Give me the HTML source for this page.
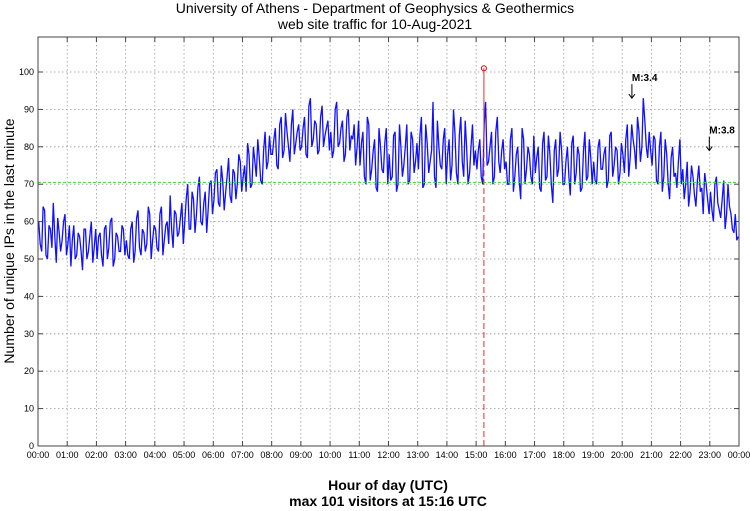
<!DOCTYPE html>
<html><head><meta charset="utf-8"><style>
body{margin:0;background:#fff;}
svg{display:block;font-family:"Liberation Sans",sans-serif;}
</style></head><body>
<svg id="chart" width="750" height="511"></svg>
<script>
const yTicks=[0,10,20,30,40,50,60,70,80,90,100];
const xHours=[0,1,2,3,4,5,6,7,8,9,10,11,12,13,14,15,16,17,18,19,20,21,22,23,24];
const meanValue=70.5;
const peakMinute=916; const peakValue=101;
const quakeMinutes=[1220,1379]; const quakeLabels=["M:3.4","M:3.8"]; const quakeValues=[93,79];
// visitors, one value per 6 minutes (10 per hour)
const visitors=[
60,52,63,50,58,65,49,57,55,62, 54,48,59,51,56,47,58,52,60,53,
50,57,48,59,53,61,50,56,52,58, 55,50,60,52,63,51,57,54,62,55,
58,52,64,55,60,67,53,62,57,65, 60,70,58,66,62,72,59,68,63,71,
66,74,64,71,68,77,65,73,70,76, 72,68,78,70,76,82,71,79,74,83,
78,85,74,88,79,84,76,90,81,86, 80,88,77,93,82,86,79,91,83,87,
84,79,92,81,87,78,90,83,86,80, 75,84,70,86,74,82,68,80,73,85,
78,72,84,70,80,75,86,71,82,76, 74,88,70,81,76,92,69,80,74,85,
78,71,90,73,83,76,87,70,80,75, 74,82,70,92,76,84,72,88,73,82,
76,70,85,72,80,66,82,74,78,70, 73,80,68,84,72,78,65,82,74,79,
70,80,67,83,73,78,69,84,72,77, 76,70,82,74,80,71,84,75,79,73,
78,82,72,86,79,88,76,93,80,84, 75,82,70,84,72,78,66,80,73,76,
70,66,76,68,72,64,75,69,73,66, 68,60,72,63,66,58,70,62,57,55
];
// interleaved readings, 3 minutes after each value above
const visitorsMid=[
54,64,51,59,53,56,61,52,60,51, 59,55,50,57,52,58,50,56,49,58,
56,51,58,50,60,48,57,52,59,51, 51,58,49,61,53,58,52,64,50,59,
53,62,51,59,54,58,63,56,61,54, 66,58,68,57,69,60,65,57,70,62,
73,65,75,63,72,67,74,66,78,68, 75,81,69,80,72,77,70,84,76,78,
82,75,86,77,89,80,86,78,84,79, 85,78,91,80,87,78,88,80,85,79,
77,90,80,85,76,88,79,82,75,87, 81,72,88,71,79,69,85,74,81,70,
71,83,68,86,72,80,70,84,73,81, 83,69,86,73,79,72,87,75,82,70,
82,75,84,70,88,72,80,73,86,79, 79,72,86,75,80,70,84,76,79,74,
70,82,68,78,71,85,70,80,72,83, 77,69,81,71,83,70,79,72,84,70,
76,72,81,70,80,68,79,71,82,70, 71,80,74,78,69,83,72,80,70,81,
73,86,77,82,74,84,80,87,77,79, 83,71,80,68,82,70,77,72,69,82,
74,70,64,75,67,71,68,62,70,62, 63,70,65,61,71,62,64,58,62,56
];
const NS="http://www.w3.org/2000/svg";
const svg=document.getElementById('chart');
const L=38,R=739,T=37,B=446;
function xs(m){return L+(R-L)*m/1440;}
function ys(v){return B-(B-72)*v/100;}
function mk(tag,attrs,parent){const e=document.createElementNS(NS,tag);for(const k in attrs)e.setAttribute(k,attrs[k]);(parent||svg).appendChild(e);return e;}
const title=mk('text',{x:375,y:13,'text-anchor':'middle','font-size':14});


title.textContent='University of Athens - Department of Geophysics & Geothermics';
const sub=mk('text',{x:375,y:29,'text-anchor':'middle','font-size':14});


sub.textContent='web site traffic for 10-Aug-2021';
const grid=mk('g',{stroke:'#999','stroke-width':0.8,'stroke-dasharray':'1.5,2.5'});


yTicks.forEach(v=>{if(v>0)mk('line',{x1:L,x2:R,y1:ys(v),y2:ys(v)},grid);});
xHours.forEach(h=>{if(h>0&&h<24)mk('line',{x1:xs(h*60),x2:xs(h*60),y1:T,y2:B},grid);});
const yl=mk('g',{'font-size':9,'text-anchor':'end',fill:'#000'});


yTicks.forEach(v=>{const t=mk('text',{x:L-4,y:ys(v)+3},yl);t.textContent=v;
mk('line',{x1:L,x2:L+5,y1:ys(v),y2:ys(v),stroke:'#444'},svg);mk('line',{x1:R-5,x2:R,y1:ys(v),y2:ys(v),stroke:'#444'},svg);});
const xl=mk('g',{'font-size':9,'text-anchor':'middle',fill:'#000'});


xHours.forEach(h=>{const t=mk('text',{x:xs(h*60),y:B+12},xl);t.textContent=String(h%24).padStart(2,'0')+':00';
mk('line',{x1:xs(h*60),x2:xs(h*60),y1:B,y2:B-5,stroke:'#444'},svg);mk('line',{x1:xs(h*60),x2:xs(h*60),y1:T,y2:T+5,stroke:'#444'},svg);});
let d='';visitors.forEach((v,i)=>{d+=(i?'L':'M')+xs(i*6+1.5).toFixed(1)+','+ys(v).toFixed(1);
d+='L'+xs(i*6+4.5).toFixed(1)+','+ys(visitorsMid[i]).toFixed(1);});
const line=mk('path',{d:d,fill:'none',stroke:'#1010ff','stroke-width':1.3});


const mean=mk('line',{x1:L,x2:R,y1:ys(meanValue),y2:ys(meanValue),stroke:'#33dd33','stroke-dasharray':'3,2'});


const pk=mk('line',{x1:xs(peakMinute),x2:xs(peakMinute),y1:B,y2:ys(80),stroke:'#e03030','stroke-dasharray':'6,3'});


const pk2=mk('line',{x1:xs(peakMinute),x2:xs(peakMinute),y1:ys(80),y2:ys(peakValue),stroke:'#e03030'});


const pc=mk('circle',{cx:xs(peakMinute),cy:ys(peakValue),r:2.5,fill:'none',stroke:'#e00000'});


quakeMinutes.forEach((m,i)=>{const g=mk('g',{});


const yb=ys(quakeValues[i]);
mk('line',{x1:xs(m),x2:xs(m),y1:yb-14,y2:yb,stroke:'#000'},g);
mk('path',{d:`M${xs(m)-3},${yb-4}L${xs(m)},${yb}L${xs(m)+3},${yb-4}`,fill:'none',stroke:'#000'},g);
const t=mk('text',{x:xs(m),y:yb-17,'font-size':10,'font-weight':'bold'},g);t.textContent=quakeLabels[i];});
mk('rect',{x:L,y:T,width:R-L,height:B-T,fill:'none',stroke:'#444'});
const yt=mk('text',{x:14,y:241,'text-anchor':'middle','font-size':14,transform:'rotate(-90 14 241)'});


yt.textContent='Number of unique IPs in the last minute';
const xt=mk('text',{x:388,y:490,'text-anchor':'middle','font-size':14,'font-weight':'bold'});


xt.textContent='Hour of day (UTC)';
const xt2=mk('text',{x:388,y:506,'text-anchor':'middle','font-size':14,'font-weight':'bold'});


xt2.textContent='max 101 visitors at 15:16 UTC';
</script>
</body></html>
